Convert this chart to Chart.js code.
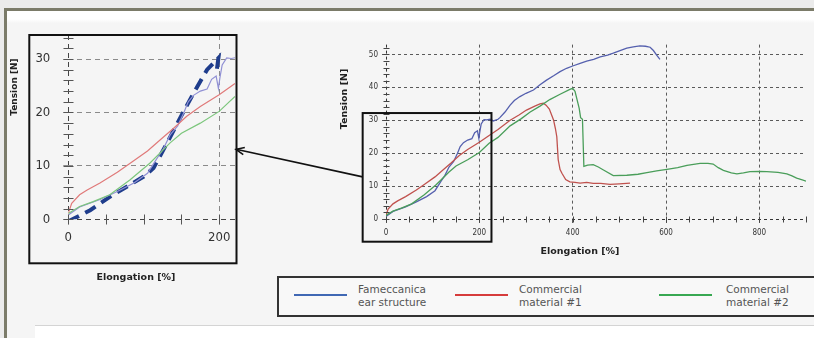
<!DOCTYPE html>
<html><head><meta charset="utf-8">
<script src="https://cdn.jsdelivr.net/npm/chart.js@4.4.1/dist/chart.umd.min.js"></script>
<style>
html,body{margin:0;padding:0;width:814px;height:338px;overflow:hidden;background:#ebebeb;}
#frame{position:absolute;left:4px;top:8px;width:830px;height:350px;border-top:3px solid #7b7b69;border-left:3px solid #7b7b69;background:linear-gradient(#ffffff 0,#ffffff 8px,#f5f5f5 12px,#f5f5f5 100%);}
#foot{position:absolute;left:35px;top:325px;width:800px;height:20px;background:#fff;border-top:1px solid #d4d4d4;}
canvas{position:absolute;left:0;top:0;}
#legend{position:absolute;left:277px;top:276px;width:600px;height:37px;border:2px solid #333;background:#f8f8f8;font-family:'DejaVu Sans',Verdana,sans-serif;font-size:10.5px;color:#555;}
.li{position:absolute;height:2px;top:16px;}
.lt{position:absolute;top:5px;line-height:13px;white-space:nowrap;}
</style></head>
<body>
<div id="frame"></div>
<div id="foot"></div>
<canvas id="main" width="814" height="338"></canvas>
<canvas id="inset" width="260" height="300"></canvas>
<div id="legend"></div>
<script>
// ---------- data ----------
const seriesNames = ['Fameccanica ear structure', 'Commercial material #1', 'Commercial material #2'];
const legendLines = [['Fameccanica', 'ear structure'], ['Commercial', 'material #1'], ['Commercial', 'material #2']];
const axisTitleX = 'Elongation [%]';
const axisTitleY = 'Tension [N]';

const mainXTicks = [0, 200, 400, 600, 800];
const mainYTicks = [0, 10, 20, 30, 40, 50];
const insetXTicks = [0, 200];
const insetYTicks = [0, 10, 20, 30];

const blueX = [0,15,42,65,87,105,118,126,135,145,153,159,166,175,184,190,196,199,201,204,210,216,223,230,240,244,255,266,275,287,300,316,330,344,360,373,387,400,416,430,445,459,475,487,500,516,530,544,556,566,573,580,587];
const blueY = [0.8,2.3,3.7,5.2,6.8,8.6,11.5,13.2,15.8,17.5,19.9,22,23.2,24,24.4,26.2,26.8,24.5,26.5,28.9,30.2,30.1,30.3,29.8,30.3,30.8,32.5,34.6,36,37.2,38.2,39.2,40.8,42.2,43.6,44.8,45.8,46.5,47.3,48,48.5,49.3,49.8,50.4,51.1,51.9,52.3,52.6,52.5,52.2,51.2,49.8,48.5];

const redX = [0,4.5,15,25,42,65,82,105,122,140,157,175,200,221,240,266,285,301,320,330,337,343,350,359,363,366,369,373,377,385,394,405,416,430,444,460,480,500,523];
const redY = [1.1,3.0,4.6,5.5,6.8,8.8,10.5,12.8,14.9,17.1,19.3,21.1,23.3,25.4,27.2,30.0,31.6,33.1,34.4,35.0,35.2,34.6,33.4,30.1,27.5,25,18,15,13.9,12,11.3,11.1,10.9,11.1,10.8,10.8,10.5,10.7,10.9];

const greenX = [0,15,33,55,82,108,135,150,175,200,221,240,266,290,309,330,351,373,394,400,405,409,414,417,421,424,432,444,455,466,487,516,540,559,580,602,625,645,673,690,701,712,723,740,752,766,780,800,816,840,859,870,880,892,900];
const greenY = [1.1,2.4,3.3,4.6,7.4,10.5,14.3,16.1,18,20.2,23,24.8,28.3,30.5,32.5,34.3,36.3,37.9,39.4,39.7,38.8,36.5,33.6,30.8,30.3,16,16.4,16.5,15.8,14.9,13.2,13.3,13.6,14.1,14.6,15.1,15.6,16.3,16.9,16.9,16.7,15.6,14.8,14.0,13.7,14.0,14.4,14.5,14.4,14.2,13.7,13.1,12.4,11.9,11.5];

// thick dashed trend drawn over the zoomed view
const trendX = [0,29,55,77.5,100,113,131,148,166,184,199,196];
const trendY = [-0.4,1.7,4.2,6.1,8,9.6,14.3,18.9,23.6,28,30.2,27];

// zoom region marked on the main chart (data units) and arrow anchors
const zoomRegion = {xMin: -50, xMax: 226, yMin: -6.9, yMax: 32.2};
const arrowFromY = 12.8;  // on main chart, left edge of zoom box
const arrowToY = 13.1;    // on inset chart, right edge

// ---------- helpers ----------
const pts = (xs, ys) => xs.map((x, i) => ({x, y: ys[i]}));
const tickFont = "'DejaVu Sans Condensed','Liberation Sans',Arial,sans-serif";
const titleFont = "'DejaVu Sans',Verdana,sans-serif";

const decor = {
  id: 'decor',
  afterDraw(chart, args, o) {
    const {ctx, scales: {x, y}} = chart;
    ctx.save();
    ctx.strokeStyle = o.tickColor; ctx.lineWidth = 1; ctx.setLineDash([]);
    const x0 = Math.round(x.getPixelForValue(0)) + 0.5, y0 = Math.round(y.getPixelForValue(0)) + 0.5;
    for (let v = 0; v <= y.max + 1e-9; v += o.yMinor) {
      const p = Math.round(y.getPixelForValue(v)) + 0.5;
      ctx.beginPath(); ctx.moveTo(x0 - o.half, p); ctx.lineTo(x0 + o.half, p); ctx.stroke();
    }
    for (let v = 0; v <= x.max + 1e-9; v += o.xMinor) {
      const p = Math.round(x.getPixelForValue(v)) + 0.5;
      ctx.beginPath(); ctx.moveTo(p, y0 - o.half); ctx.lineTo(p, y0 + o.half); ctx.stroke();
    }
    ctx.fillStyle = '#222'; ctx.textAlign = 'center'; ctx.textBaseline = 'middle';
    ctx.font = 'bold ' + o.xTitleSize + 'px ' + titleFont;
    ctx.fillText(axisTitleX, o.xTitle[0], o.xTitle[1]);
    ctx.font = 'bold ' + o.yTitleSize + 'px ' + titleFont;
    ctx.translate(o.yTitle[0], o.yTitle[1]); ctx.rotate(-Math.PI / 2);
    ctx.fillText(axisTitleY, 0, 0);
    ctx.restore();
    if (o.box) {
      const a = chart.chartArea;
      ctx.save(); ctx.strokeStyle = '#111'; ctx.lineWidth = 2;
      ctx.strokeRect(a.left - 39, a.top, a.right + 1.5 - (a.left - 39), a.bottom + 44 - a.top);
      ctx.restore();
    }
  }
};

function gridOpts(zeroColor, color, tickLen) {
  return {
    color: c => (c.tick && c.tick.value === 0) ? zeroColor : color,
    lineWidth: 1, drawTicks: true, tickLength: tickLen, tickColor: color
  };
}

// ---------- inset chart ----------
const insetChart = new Chart(document.getElementById('inset'), {
  type: 'scatter',
  data: {datasets: [
    {label: seriesNames[2], data: pts(greenX, greenY), borderColor: '#7cc67c', borderWidth: 1.2},
    {label: seriesNames[1], data: pts(redX, redY), borderColor: '#e07a7a', borderWidth: 1.2},
    {label: seriesNames[0], data: pts(blueX, blueY), borderColor: '#9090d4', borderWidth: 1.2},
    {label: 'trend', data: pts(trendX, trendY), borderColor: '#1f3d8c', borderWidth: 4, borderDash: [12, 7]}
  ]},
  options: {
    responsive: false, animation: false, devicePixelRatio: 1,
    showLine: true,
    elements: {point: {radius: 0, hoverRadius: 0}, line: {tension: 0}},
    layout: {padding: {left: 5, top: 35, right: 25, bottom: 40.7}},
    plugins: {legend: {display: false}, tooltip: {enabled: false},
      decor: {tickColor: '#555', half: 5, xMinor: 50, yMinor: 2, xTitle: [136, 278], yTitle: [15, 87], xTitleSize: 9.5, yTitleSize: 9, box: true}},
    scales: {
      x: {type: 'linear', min: 0, max: 221,
        afterBuildTicks: s => { s.ticks = insetXTicks.map(v => ({value: v})); },
        afterFit: s => { s.height = 40; },
        grid: gridOpts('#444', '#8a8a8a', 5),
        border: {display: false, dash: [5, 4]},
        ticks: {padding: 6, color: '#333', font: {family: tickFont, size: 13}, maxRotation: 0, autoSkip: false}},
      y: {type: 'linear', min: 0, max: 34.5,
        afterBuildTicks: s => { s.ticks = insetYTicks.map(v => ({value: v})); },
        afterFit: s => { s.width = 63.3; },
        grid: gridOpts('#444', '#8a8a8a', 5),
        border: {display: false, dash: [5, 4]},
        ticks: {padding: 13, color: '#333', font: {family: tickFont, size: 13}}}
    }
  },
  plugins: [decor]
});

// ---------- main chart ----------
const zoomMarks = {
  id: 'zoomMarks',
  afterDraw(chart) {
    const {ctx, scales: {x, y}} = chart;
    const l = x.getPixelForValue(zoomRegion.xMin), r = x.getPixelForValue(zoomRegion.xMax);
    const t = y.getPixelForValue(zoomRegion.yMax), b = y.getPixelForValue(zoomRegion.yMin);
    ctx.save();
    ctx.strokeStyle = '#111'; ctx.lineWidth = 2; ctx.setLineDash([]);
    ctx.strokeRect(l, t, r - l, b - t);
    // arrow to the inset
    const sx = l, sy = y.getPixelForValue(arrowFromY);
    const ex = insetChart.chartArea.right + 1, ey = insetChart.scales.y.getPixelForValue(arrowToY);
    ctx.lineWidth = 1.6;
    ctx.beginPath(); ctx.moveTo(sx, sy); ctx.lineTo(ex, ey); ctx.stroke();
    const ang = Math.atan2(sy - ey, sx - ex), h = 9;
    ctx.beginPath();
    ctx.moveTo(ex + h * Math.cos(ang + 0.42), ey + h * Math.sin(ang + 0.42));
    ctx.lineTo(ex, ey);
    ctx.lineTo(ex + h * Math.cos(ang - 0.42), ey + h * Math.sin(ang - 0.42));
    ctx.stroke();
    ctx.restore();
  }
};

new Chart(document.getElementById('main'), {
  type: 'scatter',
  data: {datasets: [
    {label: seriesNames[2], data: pts(greenX, greenY), borderColor: '#4a9e5a', borderWidth: 1.3},
    {label: seriesNames[1], data: pts(redX, redY), borderColor: '#c0524e', borderWidth: 1.3},
    {label: seriesNames[0], data: pts(blueX, blueY), borderColor: '#5560ae', borderWidth: 1.3}
  ]},
  options: {
    responsive: false, animation: false, devicePixelRatio: 1,
    showLine: true,
    elements: {point: {radius: 0, hoverRadius: 0}, line: {tension: 0}},
    layout: {padding: {left: 335, top: 44.6, right: 8, bottom: 89}},
    plugins: {legend: {display: false}, tooltip: {enabled: false},
      decor: {tickColor: '#444', half: 3, xMinor: 50, yMinor: 2, xTitle: [580, 252], yTitle: [345, 99], xTitleSize: 9.5, yTitleSize: 9.5, box: false}},
    scales: {
      x: {type: 'linear', min: 0, max: 900,
        afterBuildTicks: s => { s.ticks = mainXTicks.map(v => ({value: v})); },
        afterFit: s => { s.height = 30; },
        grid: gridOpts('#333', '#5a5a5a', 4),
        border: {display: false, dash: [3, 3]},
        ticks: {padding: 5, color: '#333', font: {family: tickFont, size: 8}, maxRotation: 0, autoSkip: false}},
      y: {type: 'linear', min: 0, max: 53,
        afterBuildTicks: s => { s.ticks = mainYTicks.map(v => ({value: v})); },
        afterFit: s => { s.width = 51; },
        grid: gridOpts('#333', '#5a5a5a', 4),
        border: {display: false, dash: [3, 3]},
        ticks: {padding: 4, color: '#333', font: {family: tickFont, size: 8}}}
    }
  },
  plugins: [decor, zoomMarks]
});

// ---------- legend (HTML) ----------
const legendColors = ['#4068b4', '#d63c3c', '#38a852'];
const legendLineLeft = [15, 176, 380];
const legendTextLeft = [79, 240, 447];
const lg = document.getElementById('legend');
legendLines.forEach((lines, i) => {
  const ln = document.createElement('div');
  ln.className = 'li'; ln.style.left = legendLineLeft[i] + 'px'; ln.style.width = '53px';
  ln.style.background = legendColors[i];
  lg.appendChild(ln);
  const tx = document.createElement('div');
  tx.className = 'lt'; tx.style.left = legendTextLeft[i] + 'px';
  tx.innerHTML = lines.join('<br>');
  lg.appendChild(tx);
});
</script>
</body></html>
